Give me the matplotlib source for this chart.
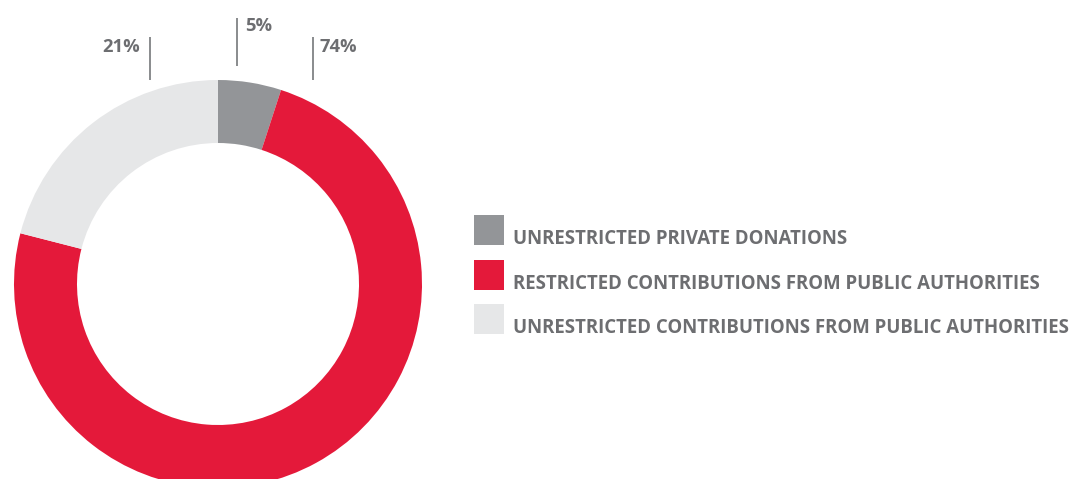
import matplotlib
matplotlib.use("Agg")
import matplotlib.pyplot as plt
from matplotlib.patches import Rectangle

categories = ["UNRESTRICTED PRIVATE DONATIONS",
              "RESTRICTED CONTRIBUTIONS FROM PUBLIC AUTHORITIES",
              "UNRESTRICTED CONTRIBUTIONS FROM PUBLIC AUTHORITIES"]
values = [5, 74, 21]
labels = ["5%", "74%", "21%"]
colors = ["#939598", "#e4193a", "#e6e7e8"]
text_color = "#6d6e71"

W, H = 1070, 479
fig = plt.figure(figsize=(W / 100, H / 100), dpi=100)
ax = fig.add_axes([0, 0, 1, 1])

def Y(y):
    return H - y

cx, cy, R, ring = 218, 284, 204, 63
ax.pie(values, colors=colors, startangle=90, counterclock=False,
       center=(cx, Y(cy)), radius=R,
       wedgeprops=dict(width=ring, linewidth=0))

# percentage labels with leader lines
label_pos = {"5%": (245, 26, 237, 18, 66),
             "74%": (320, 47, 313, 37, 80),
             "21%": (140, 47, 150, 37, 80)}
for lab in labels:
    tx, ty, lx, y0, y1 = label_pos[lab]
    ax.plot([lx, lx], [Y(y0), Y(y1)], color="#808285", lw=1.3,
            solid_capstyle="butt")
    ha = "right" if lab == "21%" else "left"
    ax.text(tx, Y(ty), lab, ha=ha, va="center", fontsize=13.2,
            fontweight="bold", color=text_color, family="Open Sans")

# legend
sq_x, sq_w = 474, 30
sq_tops = [215, 260, 304]
for cat, col, top in zip(categories, colors, sq_tops):
    ax.add_patch(Rectangle((sq_x, Y(top + sq_w)), sq_w, sq_w,
                           facecolor=col, edgecolor="none"))
    ax.text(513, Y(top + sq_w - 1), cat, ha="left", va="baseline",
            fontsize=13.4, fontweight="bold", color=text_color,
            family="Open Sans")

ax.set_xlim(0, W)
ax.set_ylim(0, H)
ax.set_aspect("auto")
ax.axis("off")
fig.savefig("out.png", dpi=100)
